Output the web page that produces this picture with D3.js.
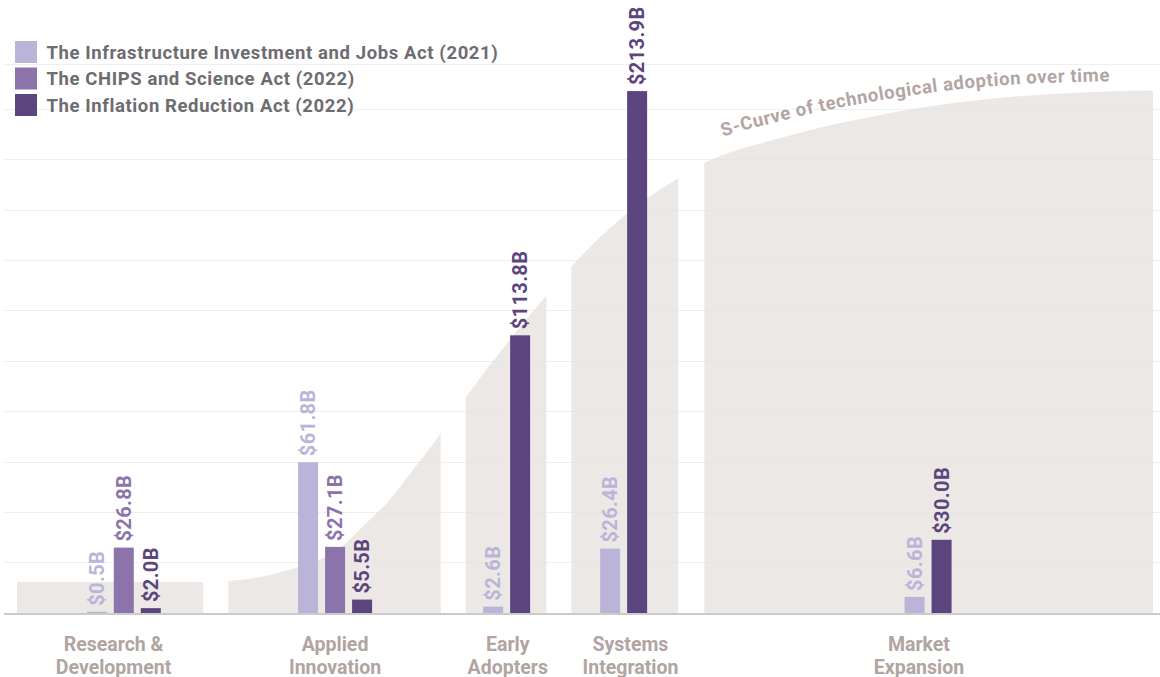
<!DOCTYPE html>
<html><head><meta charset="utf-8"><script src="https://cdn.jsdelivr.net/npm/d3@7"></script>
<style>body{margin:0;background:#fff} text{font-family:Roboto,"Liberation Sans",sans-serif;font-weight:bold}</style></head>
<body>
<svg id="chart" width="1160" height="677"></svg>
<script>
// ---- data ----
const stageLines = [["Research &","Development"],["Applied","Innovation"],["Early","Adopters"],["Systems","Integration"],["Market","Expansion"]];
// stage extents along the adoption timeline (0-100)
const stageStart = [0, 18.6, 39.5, 48.8, 60.5];
const stageEnd   = [16.4, 37.3, 46.6, 58.2, 100];
const barCenterT = [9.4, 28.0, 43.1, 53.4, 80.2];
const labelT     = [8.5, 28.0, 43.2, 54.0, 79.4];
const seriesNames = ["The Infrastructure Investment and Jobs Act (2021)","The CHIPS and Science Act (2022)","The Inflation Reduction Act (2022)"];
const seriesColors = ["#bab5d8","#8c74aa","#5c457f"];
const iija  = [0.5, 61.8, 2.6, 26.4, 6.6];
const chips = [26.8, 27.1, 0, 0, 0];
const ira   = [2.0, 5.5, 113.8, 213.9, 30.0];
// S-curve samples (timeline position, value in $B scale)
const curveT = [0,16.4,18.6,23.2,29.0,30.8,32.6,34.9,37.3,39.5,46.6,48.9,51.1,55.5,58.2,60.5,67.2,76.0,84.8,93.6,100];
const curveV = [12.7,12.7,13.1,16.7,28.9,37.1,45.3,58.9,73.6,88.2,130.1,142.4,153.0,170.1,178.2,184.4,194.7,204.1,210.3,213.3,214.1];
const gridValues = [20.7,41.3,62,82.6,103.3,124,144.6,165.3,186,206.6,225];
const curveTitle = "S-Curve of technological adoption over time";

// ---- scales ----
const svg = d3.select("#chart");
const x = d3.scaleLinear().domain([0,100]).range([17,1153]);
const y = d3.scaleLinear().domain([0,225]).range([613,64]);
const barW = 20, barStep = 27;

// gridlines
svg.append("g").selectAll("line").data(gridValues).join("line")
  .attr("x1",4).attr("x2",1160)
  .attr("y1",d=>Math.round(y(d))+0.5).attr("y2",d=>Math.round(y(d))+0.5)
  .attr("stroke","#efefef").attr("stroke-width",1);

// S-curve area clipped to stages
const defs = svg.append("defs");
const clip = defs.append("clipPath").attr("id","stageClip");
clip.selectAll("rect").data(stageStart).join("rect")
  .attr("x",(d,i)=>x(d)).attr("width",(d,i)=>x(stageEnd[i])-x(d))
  .attr("y",0).attr("height",y(0)+1);
const curvePts = curveT.map((t,i)=>[t,curveV[i]]);
const area = d3.area().x(d=>x(d[0])).y0(y(0)).y1(d=>y(d[1])).curve(d3.curveMonotoneX);
svg.append("path").datum(curvePts).attr("d",area)
  .attr("fill","#e6e0dc").attr("fill-opacity",0.75).attr("clip-path","url(#stageClip)");

// curve line (hidden) for text path sampling
const line = d3.line().x(d=>x(d[0])).y(d=>y(d[1])).curve(d3.curveMonotoneX);
const hidden = svg.append("path").datum(curvePts).attr("d",line).attr("fill","none").attr("stroke","none");
const hn = hidden.node(), L = hn.getTotalLength();
function yAtX(px){ let lo=0,hi=L; for(let k=0;k<40;k++){const m=(lo+hi)/2; if(hn.getPointAtLength(m).x<px) lo=m; else hi=m;} return hn.getPointAtLength((lo+hi)/2).y; }
const tx0 = 723, tx1 = 1130;
const txtPts = d3.range(tx0, tx1+1, 4).map(px=>{ const f=(px-tx0)/(1112-tx0); return [px, yAtX(px) - (18 - 8*f)]; });
defs.append("path").attr("id","curveTextPath").attr("d", d3.line().curve(d3.curveBasis)(txtPts));
svg.append("text").attr("font-size",18.5).attr("letter-spacing",0.6).attr("fill","#b3a5a2")
  .append("textPath").attr("href","#curveTextPath").text(curveTitle);

// baseline
svg.append("line").attr("x1",4).attr("x2",1160).attr("y1",614).attr("y2",614)
  .attr("stroke","#cbcbcb").attr("stroke-width",2);

// bars (non-zero bars of each stage are centred on the stage's group centre)
const seriesVals = [iija, chips, ira];
const bars = [];
stageLines.forEach((_,i)=>{
  const present = seriesVals.map((vals,s)=>({s,i,v:vals[i]})).filter(d=>d.v>0);
  present.forEach((d,k)=>{ d.off = (k-(present.length-1)/2)*barStep; bars.push(d); });
});
const bx = d=>x(barCenterT[d.i]) + d.off;
svg.append("g").selectAll("rect").data(bars).join("rect")
  .attr("x",d=>bx(d)-barW/2).attr("width",barW)
  .attr("y",d=>y(d.v)).attr("height",d=>y(0)-y(d.v))
  .attr("fill",d=>seriesColors[d.s]);
svg.append("g").selectAll("text").data(bars).join("text")
  .attr("transform",d=>`translate(${bx(d)},${y(d.v)-6}) rotate(-90)`)
  .attr("dy","0.36em").attr("font-size",20).attr("letter-spacing",0.4).attr("fill",d=>seriesColors[d.s])
  .text(d=>"$"+d.v.toFixed(1)+"B");

// category labels
const cat = svg.append("g").selectAll("text").data(stageLines).join("text")
  .attr("x",(d,i)=>x(labelT[i])).attr("text-anchor","middle")
  .attr("font-size",19.5).attr("fill","#b1a4a1");
cat.selectAll("tspan").data(d=>d).join("tspan")
  .attr("x",function(){return this.parentNode.getAttribute("x");})
  .attr("y",(d,j)=>651+j*22.5).text(d=>d);

// legend
const lg = svg.append("g").selectAll("g").data(seriesNames).join("g")
  .attr("transform",(d,i)=>`translate(15,${41+i*26.5})`);
lg.append("rect").attr("width",22).attr("height",22).attr("fill",(d,i)=>seriesColors[i]);
lg.append("text").attr("x",31.5).attr("y",17.5).attr("font-size",18.5).attr("letter-spacing",0.6)
  .attr("fill","#6d6c71").text(d=>d);
</script></body></html>
